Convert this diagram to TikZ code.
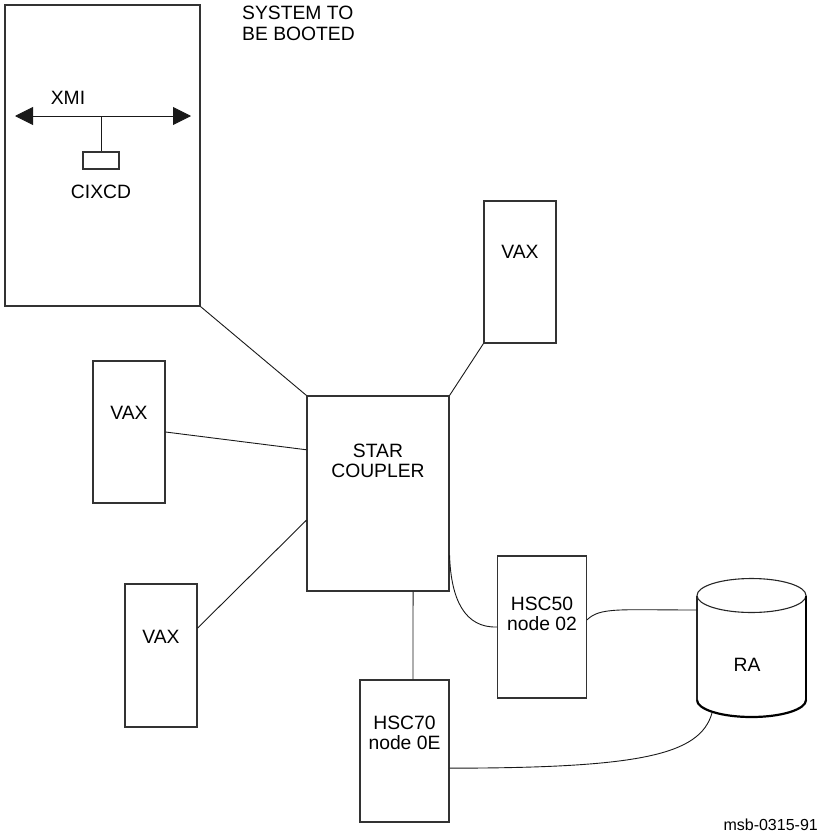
\documentclass[tikz,border=0pt]{standalone}
\usepackage{fontspec}
\setmainfont{Liberation Sans}
\usetikzlibrary{arrows.meta,calc}
\tikzset{
  box/.style={draw=black!80, line width=1.1pt, rectangle, inner sep=0pt, minimum width=#1},
  txt/.style={inner sep=0pt, align=center, font=\fontsize{19.3}{20.5}\selectfont},
  conn/.style={draw=black!90, line width=0.9pt},
  busarrows/.style={arrows={Triangle[length=18pt,width=18pt]-Triangle[length=18pt,width=18pt]}},
}
\begin{document}
\begin{tikzpicture}[x=1pt,y=-1pt]
\useasboundingbox (0,0) rectangle (820,835);
% system to be booted
\node[box=195pt, minimum height=301pt] (sys) at (102.5,155.5) {};
\node[txt, anchor=north west, align=left] (systxt) at (242,6) {SYSTEM TO\\BE BOOTED};
\coordinate (xl) at (15,116);
\coordinate (xr) at (191,116);
\coordinate (xmid) at (101,116);
\draw[conn, busarrows] (xl) -- (xr);
\node[txt] (xmi) at (68,98) {XMI};
\node[box=36pt, minimum height=17pt] (cixcd) at (101,160.5) {};
\draw[conn] (xmid) -- (cixcd.north);
\node[txt] (cixcdtxt) at (101,192) {CIXCD};
% star coupler
\node[box=142pt, minimum height=195pt] (star) at (378,493.5) {};
\node[txt] (startxt) at (378,461) {STAR\\COUPLER};
% VAXes
\node[box=72pt, minimum height=142pt] (vaxt) at (520,272) {};
\node[txt] (vaxttxt) at (520,252) {VAX};
\node[box=72pt, minimum height=142pt] (vaxl) at (129,432) {};
\node[txt] (vaxltxt) at (129,413) {VAX};
\node[box=72pt, minimum height=143pt] (vaxb) at (161,655.5) {};
\node[txt] (vaxbtxt) at (161,637) {VAX};
% HSCs
\node[box=89pt, minimum height=142pt] (hsc50) at (542,627) {};
\node[txt] (hsc50txt) at (542,614) {HSC50\\node 02};
\node[box=89pt, minimum height=142pt] (hsc70) at (404.5,751) {};
\node[txt] (hsc70txt) at (404.5,733) {HSC70\\node 0E};
% RA disk
\coordinate (ratop) at (751.5,595.5);
\coordinate (rabot) at (751.5,700);
\draw[draw=black!85, line width=1.1pt] (ratop) ellipse[x radius=54.5, y radius=17];
\draw[draw=black!85, line width=1.1pt] ($(ratop)+(-54.5,0)$) -- ($(rabot)+(-54.5,0)$);
\draw[draw=black, line width=1.8pt] ($(ratop)+(54.5,0)$) -- ($(rabot)+(54.5,0)$);
\draw[draw=black, line width=2.2pt] ($(rabot)+(-54.5,0)$) arc[start angle=180, end angle=360, x radius=54.5, y radius=-17];
\node[txt] (ratxt) at (747,665) {RA};
\coordinate (raleft) at (697,610);
\coordinate (rabotpt) at (712,713);
% connectors
\draw[conn] (sys.south east) -- (star.north west);
\draw[conn] (vaxt.south west) -- (star.north east);
\draw[conn] (vaxl.east) -- ($(star.north west)!0.277!(star.south west)$);
\draw[conn] ($(vaxb.north east)!0.31!(vaxb.south east)$) -- ($(star.north west)!0.636!(star.south west)$);
\draw[conn] ($(star.north east)!0.815!(star.south east)$) .. controls (451,600) and (465,628) .. ($(hsc50.north west)!0.5!(hsc50.south west)$);
\draw[conn] ($(star.south west)!0.745!(star.south east)$) -- ($(hsc70.north west)!0.594!(hsc70.north east)$);
\draw[conn] ($(hsc50.north east)!0.45!(hsc50.south east)$) .. controls (600,607) and (620,610) .. (raleft);
\draw[conn] ($(hsc70.north east)!0.62!(hsc70.south east)$) .. controls (640,768) and (700,755) .. (rabotpt);
% figure id
\node[inner sep=0pt, anchor=base east, font=\fontsize{16}{18}\selectfont] (figid) at (818,830) {msb-0315-91};
\end{tikzpicture}
\end{document}
